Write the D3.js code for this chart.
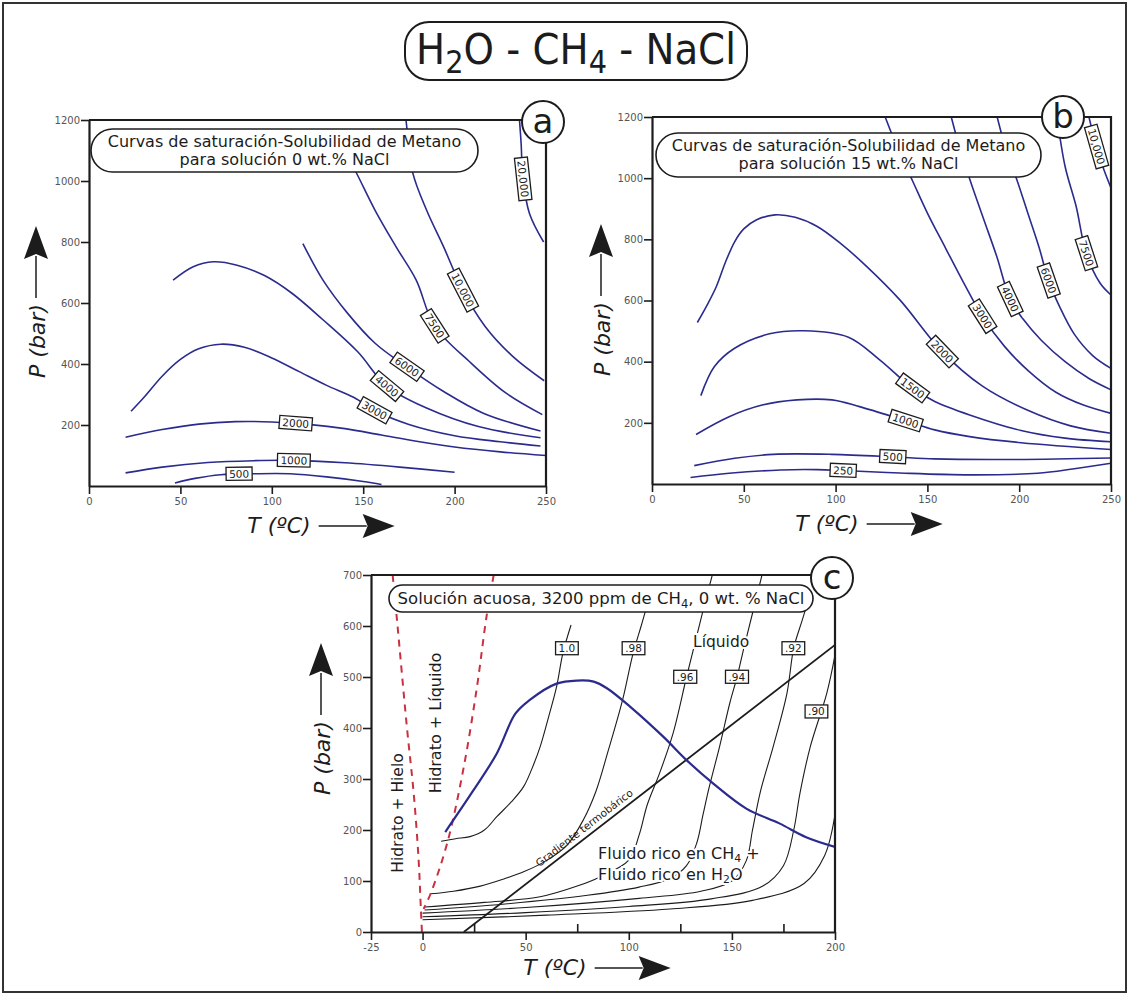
<!DOCTYPE html>
<html>
<head>
<meta charset="utf-8">
<title>H2O - CH4 - NaCl</title>
<script src="https://cdn.jsdelivr.net/npm/d3@7"></script>
<style>
  body { margin: 0; background: #fff; }
  svg { display: block; font-family: "DejaVu Sans", Verdana, sans-serif; }
</style>
</head>
<body>
<svg id="chart" width="1130" height="996"></svg>
<script>
// ---- values, every point is [T (°C), P (bar)] ----

// ticks
const tempTicksAB = [0, 50, 100, 150, 200, 250];
const pressTicksAB = [200, 400, 600, 800, 1000, 1200];
const tempTicksC = [-25, 0, 50, 100, 150, 200];
const tempMinorC = [25, 75, 125, 175];
const pressTicksC = [0, 100, 200, 300, 400, 500, 600, 700];

// panel a: CH4 solubility contours (ppm), 0 wt.% NaCl
const aLevels = ['500', '1000', '2000', '3000', '4000', '6000', '7500', '10,000', '20,000'];
const a500 = [[47, 10], [58, 25], [72, 37], [90, 40], [110, 40], [130, 30], [150, 15], [160, 5]];
const a1000 = [[20, 43], [40, 62], [65, 77], [90, 83], [110, 84], [140, 76], [170, 62], [200, 45]];
const a2000 = [[20, 160], [40, 185], [60, 203], [80, 211], [100, 210], [120, 202], [140, 188], [160, 167], [180, 146], [200, 128], [225, 112], [250, 100]];
const a3000 = [[23, 245], [30, 290], [40, 360], [50, 415], [60, 450], [72, 465], [85, 455], [100, 420], [115, 375], [130, 330], [145, 290], [157, 245], [175, 202], [200, 165], [225, 145], [247, 131]];
const a4000 = [[46, 675], [57, 719], [68, 735], [81, 724], [96, 690], [111, 632], [128, 545], [147, 440], [163, 327], [185, 255], [213, 195], [247, 158]];
const a6000 = [[117, 795], [128, 675], [141.5, 566], [156.5, 468], [174, 390], [194, 310], [216, 238], [247, 180]];
const a7500 = [[140, 1100], [147, 1018], [156.5, 904], [168, 784], [179, 675], [189, 525], [209, 403], [228, 305], [248, 234]];
const a10000 = [[172, 1260], [173.4, 1200], [177, 1029], [184.7, 904], [194, 784], [204.5, 642], [216.7, 523], [231.8, 425], [249, 345]];
const a20000 = [[235.5, 1200], [236.4, 1122], [237.4, 1007], [241, 893], [248.7, 800]];
const aCurves = [a500, a1000, a2000, a3000, a4000, a6000, a7500, a10000, a20000];
const aLabelAt = [[82, 40], [112, 84], [113, 209], [156, 245], [163, 327], [174, 390], [189, 525], [204.5, 642], [237.4, 1007]];

// panel b: CH4 solubility contours (ppm), 15 wt.% NaCl
const bLevels = ['250', '500', '1000', '1500', '2000', '3000', '4000', '6000', '7500', '10,000'];
const b250 = [[21, 21], [42, 35], [70, 46], [90, 47], [104, 44], [135, 36], [173, 30], [210, 35], [230, 50], [250, 68]];
const b500 = [[23, 60], [45, 84], [66, 97], [98, 97], [131, 89], [154, 82], [192, 80], [250, 85]];
const b1000 = [[24, 162], [42, 220], [60, 258], [79, 275], [98, 275], [113, 253], [138, 207], [154, 177], [173, 155], [201, 135], [250, 113]];
const b1500 = [[26.6, 289], [34, 384], [45, 444], [64, 491], [83, 501], [107, 480], [124, 406], [142, 313], [154, 270], [173, 226], [201, 175], [225, 150], [250, 138]];
const b2000 = [[24.7, 528], [30, 585], [35, 645], [40, 725], [45, 792], [50, 834], [57, 864], [67, 880], [78, 872], [90, 842], [103, 785], [117, 711], [135, 602], [158, 433], [180, 320], [205, 240], [228, 190], [250, 166]];
const b3000 = [[127, 1200], [135, 1080], [142, 990], [150, 886], [160, 770], [170, 655], [180, 548], [192, 450], [205, 370], [220, 300], [235, 258], [250, 231]];
const b4000 = [[163, 1200], [168, 1090], [174, 980], [181, 860], [188, 740], [195, 605], [202, 540], [212, 470], [225, 400], [238, 345], [250, 308]];
const b6000 = [[188, 1200], [193, 1090], [199, 990], [205, 880], [211, 770], [216, 665], [222, 580], [230, 490], [240, 420], [250, 378]];
const b7500 = [[220.6, 1200], [225, 1038], [231, 908], [236.5, 755], [244, 657], [250, 618]];
const b10000 = [[238, 1200], [242, 1104], [246, 1030], [250, 968]];
const bCurves = [b250, b500, b1000, b1500, b2000, b3000, b4000, b6000, b7500, b10000];
const bLabelAt = [[104, 44], [131, 88], [138, 205], [142, 313], [158, 433], [180, 548], [195, 605], [216, 665], [236.5, 755], [242, 1104]];

// panel c: 3200 ppm CH4, 0 wt.% NaCl
const cSolubility = [[11, 196], [24.7, 278], [36, 350], [45, 428], [52, 455], [65, 487], [75, 493], [83, 491], [89.4, 478], [100.6, 442], [116.7, 383], [128, 337], [141, 291], [157, 242], [173, 213], [186, 186], [200, 167]];
const cHydrateIce = [[-14.5, 700], [-12.4, 612], [-7.6, 402], [-4.3, 272], [-1.9, 141], [-0.8, 43], [-0.3, 0]];
const cHydrateLiquid = [[34.5, 700], [31, 618], [26.4, 481], [20, 324], [12, 175], [4, 76], [0.5, 45]];
const cGradient = [[20, 0], [200, 563]];
const cLevels = ['1.0', '.98', '.96', '.94', '.92', '.90'];
const c100 = [[9, 178], [16, 183], [23, 187], [30, 200], [36, 226], [43, 255], [49, 285], [54, 330], [57, 363], [61, 420], [65, 481], [68, 546], [72, 602]];
const c098 = [[4, 75], [15, 80], [28, 90], [40, 105], [49, 118], [60, 140], [70, 170], [78, 220], [84, 275], [90, 355], [97, 455], [102, 545], [106, 600], [108, 628]];
const c096 = [[1, 49], [30, 58], [57, 69], [75, 90], [86, 108], [100, 141], [105, 190], [109, 250], [115, 312], [121.5, 390], [128, 500], [132, 565], [136, 630], [140.5, 700]];
const c094 = [[1, 43], [40, 55], [80, 72], [105, 88], [120, 105], [128, 130], [133, 175], [136, 230], [139, 284], [144, 363], [149, 449], [152.5, 500], [156, 560], [160, 625], [164.6, 700]];
const c092 = [[0, 37], [50, 48], [105, 66], [135, 80], [150, 100], [157, 140], [160, 200], [164, 278], [170, 363], [176.7, 468], [180, 557], [184, 610], [187, 650]];
const c090 = [[0, 30], [50, 38], [100, 50], [140, 65], [165, 90], [175, 130], [180, 200], [183, 272], [188, 363], [196, 468], [200, 543]];
const cLower = [[0, 24], [60, 33], [120, 45], [160, 62], [185, 95], [195, 150], [200, 230]];
const cCurves = [c100, c098, c096, c094, c092, c090];
const cLabelAt = [[70, 556], [102.3, 556], [127.3, 500], [152.4, 500], [179.8, 556], [191, 432]];

// ---- drawing ----
const svg = d3.select('#chart');
const ink = '#1c1c1c';
const navy = '#2b2b8e';

svg.append('rect')
  .attr('x', 3).attr('y', 3).attr('width', 1123).attr('height', 989)
  .attr('fill', 'none').attr('stroke', '#333').attr('stroke-width', 2);

// title
svg.append('rect')
  .attr('x', 405).attr('y', 22).attr('width', 342).attr('height', 58).attr('rx', 24)
  .attr('fill', '#fff').attr('stroke', ink).attr('stroke-width', 2);
const title = svg.append('text')
  .attr('x', 576).attr('y', 64).attr('text-anchor', 'middle').attr('fill', ink)
  .style('font-family', '"Liberation Sans Narrow", "DejaVu Sans Condensed", sans-serif')
  .style('font-size', '43px');
title.append('tspan').text('H');
title.append('tspan').attr('dy', 9).style('font-size', '32px').text('2');
title.append('tspan').attr('dy', -9).text('O - CH');
title.append('tspan').attr('dy', 9).style('font-size', '32px').text('4');
title.append('tspan').attr('dy', -9).text(' - NaCl');

function makePanel(opt) {
  const x = d3.scaleLinear().domain(opt.tDomain).range(opt.xRange);
  const y = d3.scaleLinear().domain(opt.pDomain).range(opt.yRange);
  const g = svg.append('g');
  const clipId = 'clip-' + opt.name;
  svg.append('clipPath').attr('id', clipId).append('rect')
    .attr('x', opt.xRange[0]).attr('y', opt.yRange[1])
    .attr('width', opt.xRange[1] - opt.xRange[0])
    .attr('height', opt.yRange[0] - opt.yRange[1]);
  const plot = g.append('g').attr('clip-path', 'url(#' + clipId + ')');
  const labels = g.append('g');
  const line = d3.line()
    .x(d => x(d[0])).y(d => y(d[1]))
    .curve(d3.curveCatmullRom.alpha(0.5));
  return { opt, x, y, g, plot, labels, line };
}

function drawAxes(P, tTicks, pTicks) {
  const o = P.opt;
  const fmt = d => String(d);
  const gx = P.g.append('g').attr('transform', 'translate(0,' + o.yRange[0] + ')')
    .call(d3.axisBottom(P.x).tickValues(tTicks).tickFormat(fmt).tickSize(8).tickSizeOuter(0).tickPadding(4));
  const gy = P.g.append('g').attr('transform', 'translate(' + o.xRange[0] + ',0)')
    .call(d3.axisLeft(P.y).tickValues(pTicks).tickFormat(fmt).tickSize(8).tickSizeOuter(0).tickPadding(1));
  [gx, gy].forEach(a => {
    a.select('.domain').attr('stroke', ink).attr('stroke-width', 2.2);
    a.selectAll('.tick line').attr('stroke', ink).attr('stroke-width', 1.6);
    a.selectAll('.tick text').attr('fill', '#555')
      .style('font-size', '10px').style('font-family', '"DejaVu Sans", sans-serif');
  });
  P.g.append('path')
    .attr('d', 'M' + o.xRange[0] + ',' + o.yRange[1] + 'H' + o.xRange[1] + 'V' + o.yRange[0])
    .attr('fill', 'none').attr('stroke', ink).attr('stroke-width', 2.2);
}

// white box with a number, sitting on a curve
function curveLabel(layer, pathNode, at, text, along) {
  let cx = at[0], cy = at[1], ang = 0;
  if (along) {
    const L = pathNode.getTotalLength();
    let best = 0, bestD = Infinity;
    for (let s = 0; s <= L; s += 0.5) {
      const q = pathNode.getPointAtLength(s);
      const d = (q.x - at[0]) ** 2 + (q.y - at[1]) ** 2;
      if (d < bestD) { bestD = d; best = s; }
    }
    const c = pathNode.getPointAtLength(best);
    const q0 = pathNode.getPointAtLength(Math.max(0, best - 8));
    const q1 = pathNode.getPointAtLength(Math.min(L, best + 8));
    cx = c.x; cy = c.y;
    ang = Math.atan2(q1.y - q0.y, q1.x - q0.x) * 180 / Math.PI;
    if (ang > 90) ang -= 180;
    if (ang < -90) ang += 180;
  }
  const lg = layer.append('g').attr('transform', 'translate(' + cx + ',' + cy + ') rotate(' + ang + ')');
  const t = lg.append('text')
    .attr('text-anchor', 'middle').attr('dy', '0.36em')
    .attr('fill', ink).style('font-size', '10.5px').text(text);
  const bb = t.node().getBBox();
  lg.insert('rect', 'text')
    .attr('x', bb.x - 3).attr('y', bb.y - 0.5)
    .attr('width', bb.width + 6).attr('height', bb.height + 1)
    .attr('fill', '#fff').attr('stroke', ink).attr('stroke-width', 1.3);
}

function roundBox(x, y, w, h, lines, size, baselines) {
  const g = svg.append('g');
  g.append('rect').attr('x', x).attr('y', y).attr('width', w).attr('height', h)
    .attr('rx', h / 2).attr('fill', '#fff').attr('stroke', ink).attr('stroke-width', 1.6);
  lines.forEach((ln, i) => {
    const t = g.append('text').attr('x', x + w / 2).attr('y', baselines[i])
      .attr('text-anchor', 'middle').attr('fill', ink).style('font-size', size + 'px');
    ln.forEach(part => {
      const s = t.append('tspan').text(part.t);
      if (part.sub) s.attr('dy', 4).style('font-size', (size * 0.7) + 'px');
      if (part.up) s.attr('dy', -4);
    });
  });
  return g;
}

function badge(cx, cy, letter) {
  const g = svg.append('g');
  g.append('circle').attr('cx', cx).attr('cy', cy).attr('r', 21)
    .attr('fill', '#fff').attr('stroke', ink).attr('stroke-width', 2);
  g.append('text').attr('x', cx).attr('y', cy + 11).attr('text-anchor', 'middle')
    .attr('fill', ink).style('font-size', '34px').text(letter);
}

function arrowHead(g, tipX, tipY, dir) {
  // dir: 'right' or 'up'
  const pts = dir === 'right'
    ? [[tipX, tipY], [tipX - 32, tipY - 12], [tipX - 27, tipY], [tipX - 32, tipY + 12]]
    : [[tipX, tipY], [tipX - 12, tipY + 33], [tipX, tipY + 28], [tipX + 12, tipY + 33]];
  g.append('path').attr('d', d3.line()(pts) + 'Z').attr('fill', ink);
}

function axisTitles(tPos, pPos) {
  const g = svg.append('g').attr('fill', ink);
  const t = g.append('text').attr('x', tPos[0]).attr('y', tPos[1]).attr('text-anchor', 'middle')
    .style('font-size', '22px').style('font-style', 'italic').text('T (ºC)');
  const tw = t.node().getComputedTextLength();
  const x0 = tPos[0] + tw / 2 + 8, ya = tPos[1] - 7;
  g.append('line').attr('x1', x0).attr('x2', x0 + 48).attr('y1', ya).attr('y2', ya)
    .attr('stroke', ink).attr('stroke-width', 1.5);
  arrowHead(g, x0 + 76, ya, 'right');

  const p = g.append('text').attr('transform', 'translate(' + pPos[0] + ',' + pPos[1] + ') rotate(-90)')
    .attr('text-anchor', 'middle').attr('dy', '0.35em')
    .style('font-size', '22px').style('font-style', 'italic').text('P (bar)');
  const pw = p.node().getComputedTextLength();
  const y0 = pPos[1] - pw / 2 - 6, xa = pPos[0] - 1;
  g.append('line').attr('x1', xa).attr('x2', xa).attr('y1', y0).attr('y2', y0 - 42)
    .attr('stroke', ink).attr('stroke-width', 1.5);
  arrowHead(g, xa, y0 - 72, 'up');
}

function contourPanel(P, curves, levels, labelAt) {
  const paths = curves.map(c => P.plot.append('path')
    .attr('d', P.line(c)).attr('fill', 'none')
    .attr('stroke', navy).attr('stroke-width', 1.6).node());
  levels.forEach((lv, i) => {
    curveLabel(P.labels, paths[i], [P.x(labelAt[i][0]), P.y(labelAt[i][1])], lv, true);
  });
}

// ---- panel a ----
const pa = makePanel({ name: 'a', tDomain: [0, 250], pDomain: [0, 1200], xRange: [89, 546], yRange: [486, 120] });
contourPanel(pa, aCurves, aLevels, aLabelAt);
drawAxes(pa, tempTicksAB, pressTicksAB);
roundBox(91, 129, 387, 43,
  [[{ t: 'Curvas de saturación-Solubilidad de Metano' }], [{ t: 'para solución 0 wt.% NaCl' }]],
  16, [147, 165]);
badge(543, 122, 'a');
axisTitles([279, 533], [37, 341]);

// ---- panel b ----
const pb = makePanel({ name: 'b', tDomain: [0, 250], pDomain: [0, 1200], xRange: [652, 1111], yRange: [484, 117] });
contourPanel(pb, bCurves, bLevels, bLabelAt);
drawAxes(pb, tempTicksAB, pressTicksAB);
roundBox(656, 133, 385, 44,
  [[{ t: 'Curvas de saturación-Solubilidad de Metano' }], [{ t: 'para solución 15 wt.% NaCl' }]],
  16, [151, 169]);
badge(1063, 117, 'b');
axisTitles([827, 531], [602, 339]);

// ---- panel c ----
const pc = makePanel({ name: 'c', tDomain: [-25, 200], pDomain: [0, 700], xRange: [371, 835], yRange: [932, 575] });

const isoPaths = cCurves.map(c => pc.plot.append('path')
  .attr('d', pc.line(c)).attr('fill', 'none')
  .attr('stroke', ink).attr('stroke-width', 1.1).node());
pc.plot.append('path').attr('d', pc.line(cLower)).attr('fill', 'none')
  .attr('stroke', ink).attr('stroke-width', 1.1);

pc.plot.append('path').attr('d', d3.line().x(d => pc.x(d[0])).y(d => pc.y(d[1]))(cGradient))
  .attr('fill', 'none').attr('stroke', ink).attr('stroke-width', 1.8);

[cHydrateIce, cHydrateLiquid].forEach(c => pc.plot.append('path')
  .attr('d', pc.line(c)).attr('fill', 'none')
  .attr('stroke', '#c9313f').attr('stroke-width', 2).attr('stroke-dasharray', '7,6'));

pc.plot.append('path').attr('d', pc.line(cSolubility)).attr('fill', 'none')
  .attr('stroke', navy).attr('stroke-width', 2.2);

cLevels.forEach((lv, i) => {
  curveLabel(pc.labels, isoPaths[i], [pc.x(cLabelAt[i][0]), pc.y(cLabelAt[i][1])], lv, false);
});

// gradient label along the line
(function () {
  const a = cGradient[0], b = cGradient[1];
  const ang = Math.atan2(pc.y(b[1]) - pc.y(a[1]), pc.x(b[0]) - pc.x(a[0])) * 180 / Math.PI;
  const tMid = 81, pMid = a[1] + (b[1] - a[1]) * (tMid - a[0]) / (b[0] - a[0]);
  pc.labels.append('text')
    .attr('transform', 'translate(' + pc.x(tMid) + ',' + pc.y(pMid) + ') rotate(' + ang + ')')
    .attr('text-anchor', 'middle').attr('y', -5)
    .attr('fill', ink).style('font-size', '10.5px').text('Gradiente termobárico');
})();

function haloText(x, y, rot, size, parts) {
  const t = pc.labels.append('text')
    .attr('transform', 'translate(' + x + ',' + y + ') rotate(' + rot + ')')
    .attr('text-anchor', rot ? 'middle' : 'start')
    .attr('fill', ink).attr('stroke', '#fff').attr('stroke-width', 4)
    .attr('paint-order', 'stroke').style('font-size', size + 'px');
  parts.forEach(p => {
    const s = t.append('tspan').text(p.t);
    if (p.sub) s.attr('dy', 2.5).style('font-size', (size * 0.68) + 'px');
    if (p.up) s.attr('dy', -2.5);
  });
}
haloText(403, 813, -90, 15.5, [{ t: 'Hidrato + Hielo' }]);
haloText(441, 723, -90, 16, [{ t: 'Hidrato + Líquido' }]);
haloText(693, 647, 0, 15.5, [{ t: 'Líquido' }]);
haloText(598, 859, 0, 16, [{ t: 'Fluido rico en CH' }, { t: '4', sub: true }, { t: ' +', up: true }]);
haloText(598, 880, 0, 16, [{ t: 'Fluido rico en H' }, { t: '2', sub: true }, { t: 'O', up: true }]);

drawAxes(pc, tempTicksC, pressTicksC);
pc.g.append('g').attr('transform', 'translate(0,' + 932 + ')')
  .call(d3.axisBottom(pc.x).tickValues(tempMinorC).tickSize(-8).tickSizeOuter(0).tickFormat(''))
  .call(a => a.select('.domain').remove())
  .selectAll('.tick line').attr('stroke', ink).attr('stroke-width', 1.6);

roundBox(389, 585, 424, 27,
  [[{ t: 'Solución acuosa, 3200 ppm de CH' }, { t: '4', sub: true }, { t: ', 0 wt. % NaCl', up: true }]],
  16.5, [604]);
badge(832, 578, 'c');
axisTitles([555, 975], [322, 758]);
</script>
</body>
</html>
